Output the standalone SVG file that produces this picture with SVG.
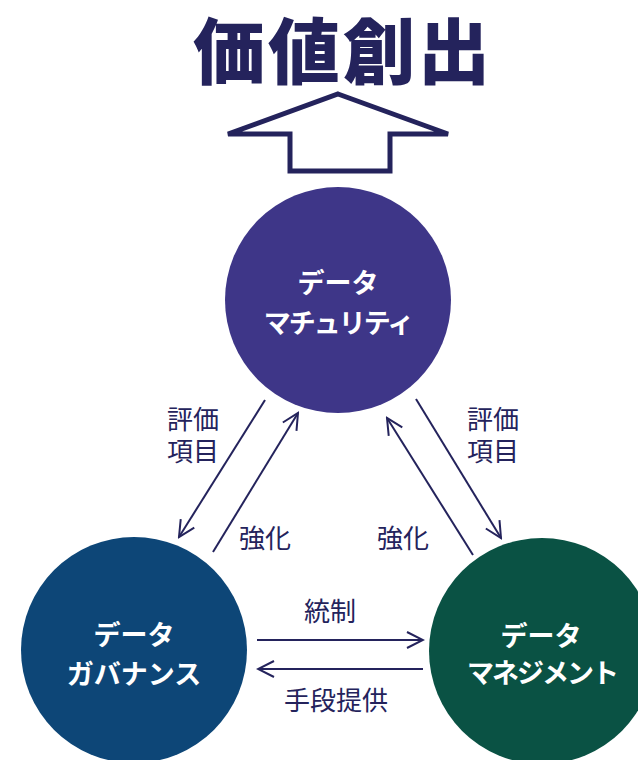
<svg xmlns="http://www.w3.org/2000/svg" width="638" height="760" viewBox="0 0 638 760">
<style>
.title{font-family:"Noto Sans CJK JP","Noto Sans CJK SC",sans-serif;font-weight:900;font-size:72px;fill:#24235C;letter-spacing:3px}
.node{font-family:"Noto Sans CJK JP","Noto Sans CJK SC",sans-serif;font-weight:700;font-size:27px;fill:#ffffff;text-anchor:middle}
.tight{letter-spacing:-2px}
.lbl{font-family:"Noto Sans CJK JP","Noto Sans CJK SC",sans-serif;font-size:26px;fill:#24235C}
.conn{stroke:#24235C;stroke-width:2;fill:none;marker-end:url(#ah)}
</style>
<defs>
<marker id="ah" viewBox="0 0 20 20" refX="18" refY="10" markerWidth="20" markerHeight="20" markerUnits="userSpaceOnUse" orient="auto">
<path d="M2,2 L18,10 L2,18" fill="none" stroke="#24235C" stroke-width="2"/>
</marker>
</defs>
<rect width="638" height="760" fill="#ffffff"/>
<g id="title">
<text class="title" x="343" y="78" text-anchor="middle">価値創出</text>
<path d="M338,94 L448,134 L390,134 L390,171 L290,171 L290,134 L228,134 Z" fill="#ffffff" stroke="#24235C" stroke-width="5" stroke-linejoin="miter"/>
</g>
<g id="maturity">
<circle cx="338" cy="300" r="113" fill="#3E3688"/>
<text class="node" x="338" y="293">データ</text>
<text class="node tight" x="338" y="333">マチュリティ</text>
</g>
<g id="governance">
<circle cx="134" cy="650" r="113" fill="#0D4677"/>
<text class="node" x="134" y="645">データ</text>
<text class="node" x="134" y="684">ガバナンス</text>
</g>
<g id="management">
<circle cx="542" cy="651" r="113" fill="#0A5244"/>
<text class="node" x="541" y="646">データ</text>
<text class="node tight" x="542" y="683">マネジメント</text>
</g>
<g id="connectors">
<line class="conn" x1="265" y1="400" x2="179" y2="537"/>
<line class="conn" x1="213" y1="552" x2="298" y2="413"/>
<line class="conn" x1="473" y1="555" x2="387" y2="418"/>
<line class="conn" x1="416" y1="399" x2="501" y2="538"/>
<line class="conn" x1="257" y1="640" x2="423" y2="640"/>
<line class="conn" x1="423" y1="669" x2="258" y2="669"/>
</g>
<g id="labels">
<text class="lbl" x="167" y="429">評価</text>
<text class="lbl" x="167" y="461">項目</text>
<text class="lbl" x="467" y="429">評価</text>
<text class="lbl" x="467" y="461">項目</text>
<text class="lbl" x="239" y="548">強化</text>
<text class="lbl" x="377" y="548">強化</text>
<text class="lbl" x="330" y="621" text-anchor="middle">統制</text>
<text class="lbl" x="336" y="710" text-anchor="middle">手段提供</text>
</g>
</svg>
